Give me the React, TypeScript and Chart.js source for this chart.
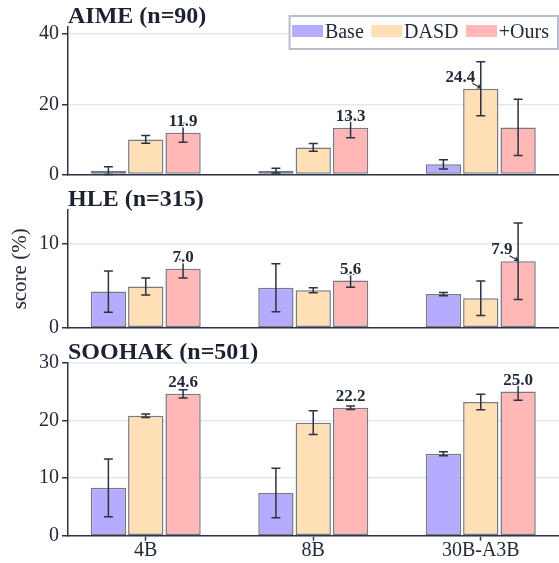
import React, { useEffect, useRef } from 'react';
import { Chart, registerables } from 'chart.js';

Chart.register(...registerables);

// ---------- data ----------
const categories = ['4B', '8B', '30B-A3B'];
const seriesNames = ['Base', 'DASD', '+Ours'];
const seriesColors = ['#b5abff', '#ffdfb6', '#ffb8b6'];

const aimeBase = [1.1, 1.1, 2.9];
const aimeBaseErr = [1.1, 0.7, 1.3];
const aimeDasd = [10.0, 7.7, 24.4];
const aimeDasdErr = [1.1, 1.1, 7.7];
const aimeOurs = [11.9, 13.3, 13.4];
const aimeOursErr = [2.7, 2.8, 8.0];
const aimeTicks = [0, 20, 40];
const aimeMax = 42;
const aimeArrow = [false, false, true];

const hleBase = [4.3, 4.75, 4.0];
const hleBaseErr = [2.45, 2.85, 0.2];
const hleDasd = [4.9, 4.45, 3.5];
const hleDasdErr = [1.0, 0.3, 2.05];
const hleOurs = [7.0, 5.6, 7.9];
const hleOursErr = [1.1, 0.8, 4.55];
const hleTicks = [0, 10];
const hleMax = 14;
const hleArrow = [false, false, true];

const soohakBase = [8.3, 7.4, 14.2];
const soohakBaseErr = [5.0, 4.3, 0.35];
const soohakDasd = [20.8, 19.6, 23.2];
const soohakDasdErr = [0.3, 2.05, 1.35];
const soohakOurs = [24.6, 22.2, 25.0];
const soohakOursErr = [0.7, 0.3, 1.5];
const soohakTicks = [0, 10, 20, 30];
const soohakMax = 30;
const soohakArrow = [false, false, false];

const yAxisTitle = 'score (%)';

// ---------- style ----------
const SERIF = '"Liberation Serif", "Times New Roman", "DejaVu Serif", serif';
const INK = '#222a38';
const AXIS = '#2f3542';
const GRID = '#e3e7ef';
const ERR = '#2b3240';
const BAR_EDGE = 'rgba(72,78,92,0.75)';
const W = 559;

type Panel = {
  title: string;
  values: number[][];
  errors: number[][];
  ticks: number[];
  max: number;
  arrow: boolean[];
  top: number;
  height: number;
  padTop: number;
  xHeight: number;
  showX: boolean;
  yTitle: string | null;
  legend: boolean;
};

const panels: Panel[] = [
  {
    title: 'AIME (n=90)',
    values: [aimeBase, aimeDasd, aimeOurs],
    errors: [aimeBaseErr, aimeDasdErr, aimeOursErr],
    ticks: aimeTicks, max: aimeMax, arrow: aimeArrow,
    top: 0, height: 180, padTop: 27, xHeight: 5.5, showX: false, yTitle: null, legend: true,
  },
  {
    title: 'HLE (n=315)',
    values: [hleBase, hleDasd, hleOurs],
    errors: [hleBaseErr, hleDasdErr, hleOursErr],
    ticks: hleTicks, max: hleMax, arrow: hleArrow,
    top: 180, height: 155, padTop: 30, xHeight: 7.3, showX: false, yTitle: yAxisTitle, legend: false,
  },
  {
    title: 'SOOHAK (n=501)',
    values: [soohakBase, soohakDasd, soohakOurs],
    errors: [soohakBaseErr, soohakDasdErr, soohakOursErr],
    ticks: soohakTicks, max: soohakMax, arrow: soohakArrow,
    top: 335, height: 228, padTop: 27.7, xHeight: 27.3, showX: true, yTitle: null, legend: false,
  },
];

function drawLegend(chart: any) {
  const ctx = chart.ctx as CanvasRenderingContext2D;
  const right = chart.chartArea.right;
  ctx.save();
  ctx.font = `20px ${SERIF}`;
  const sw = 31, gapSw = 1.8, gapItem = 7.5, padL = 2.5, padR = 9;
  const widths = seriesNames.map((n) => ctx.measureText(n).width);
  const total = padL + widths.reduce((a, w) => a + sw + gapSw + w, 0) + gapItem * (seriesNames.length - 1) + padR;
  const boxR = right - 1;
  const boxL = boxR - total;
  const boxT = 16, boxH = 33;
  ctx.fillStyle = '#ffffff';
  ctx.fillRect(boxL, boxT, total, boxH);
  ctx.strokeStyle = '#b5bdcc';
  ctx.lineWidth = 2;
  ctx.strokeRect(boxL, boxT, total, boxH);
  let x = boxL + padL;
  ctx.textBaseline = 'alphabetic';
  ctx.textAlign = 'left';
  seriesNames.forEach((n, k) => {
    ctx.fillStyle = seriesColors[k];
    ctx.fillRect(x, 25, sw, 12);
    x += sw + gapSw;
    ctx.fillStyle = INK;
    ctx.fillText(n, x, 38.3);
    x += widths[k] + gapItem;
  });
  ctx.restore();
}

function makeDecor(panel: Panel) {
  return {
    id: 'decor',
    afterDatasetsDraw(chart: any) {
      const ctx = chart.ctx as CanvasRenderingContext2D;
      const ys = chart.scales.y;
      ctx.save();
      // error bars
      ctx.strokeStyle = ERR;
      ctx.lineWidth = 1.5;
      panel.values.forEach((vals, d) => {
        const meta = chart.getDatasetMeta(d);
        meta.data.forEach((el: any, i: number) => {
          const v = vals[i];
          const e = panel.errors[d][i];
          const x = el.x;
          const yT = ys.getPixelForValue(v + e);
          const yB = ys.getPixelForValue(Math.max(0, v - e));
          ctx.beginPath();
          ctx.moveTo(x, yT); ctx.lineTo(x, yB);
          ctx.moveTo(x - 4.5, yT); ctx.lineTo(x + 4.5, yT);
          ctx.moveTo(x - 4.5, yB); ctx.lineTo(x + 4.5, yB);
          ctx.stroke();
        });
      });
      // value labels on the best bar of each group
      ctx.font = `bold 17px ${SERIF}`;
      categories.forEach((_, i) => {
        let best = 0;
        panel.values.forEach((vals, d) => { if (vals[i] > panel.values[best][i]) best = d; });
        const el = chart.getDatasetMeta(best).data[i];
        const txt = panel.values[best][i].toFixed(1);
        ctx.lineJoin = 'round';
        ctx.lineWidth = 3;
        ctx.strokeStyle = 'rgba(255,255,255,0.85)';
        ctx.fillStyle = INK;
        ctx.textBaseline = 'alphabetic';
        if (panel.arrow[i]) {
          const tx = el.x - 5.5;
          const ty = el.y - 7;
          ctx.textAlign = 'right';
          ctx.strokeText(txt, tx, ty);
          ctx.fillText(txt, tx, ty);
          // arrow
          const x0 = el.x - 8.5, y0 = el.y - 5.5;
          const x1 = el.x, y1 = el.y - 0.8;
          const ang = Math.atan2(y1 - y0, x1 - x0);
          ctx.strokeStyle = ERR;
          ctx.lineWidth = 1.2;
          ctx.beginPath();
          ctx.moveTo(x0, y0); ctx.lineTo(x1, y1);
          ctx.moveTo(x1, y1); ctx.lineTo(x1 - 4 * Math.cos(ang - 0.5), y1 - 4 * Math.sin(ang - 0.5));
          ctx.moveTo(x1, y1); ctx.lineTo(x1 - 4 * Math.cos(ang + 0.5), y1 - 4 * Math.sin(ang + 0.5));
          ctx.stroke();
        } else {
          ctx.textAlign = 'center';
          ctx.strokeText(txt, el.x, el.y - 7);
          ctx.fillText(txt, el.x, el.y - 7);
        }
      });
      ctx.restore();
    },
    afterDraw(chart: any) {
      const ctx = chart.ctx as CanvasRenderingContext2D;
      ctx.save();
      ctx.font = `bold 24px ${SERIF}`;
      ctx.fillStyle = '#1c2230';
      ctx.textAlign = 'left';
      ctx.textBaseline = 'alphabetic';
      ctx.fillText(panel.title, chart.chartArea.left, chart.chartArea.top - 4);
      ctx.restore();
      if (panel.legend) drawLegend(chart);
    },
  };
}

function PanelChart({ panel }: { panel: Panel }) {
  const ref = useRef<HTMLCanvasElement>(null);
  useEffect(() => {
    const chart = new Chart(ref.current as HTMLCanvasElement, {
      type: 'bar',
      data: {
        datasets: seriesNames.map((name, d) => ({
          label: name,
          data: panel.values[d].map((v, i) => ({ x: i, y: v })),
          backgroundColor: seriesColors[d],
          borderColor: BAR_EDGE,
          borderWidth: 1.5,
          borderSkipped: false,
          categoryPercentage: 0.6687,
          barPercentage: 0.945,
        })),
      } as any,
      options: {
        animation: false,
        responsive: false,
        maintainAspectRatio: false,
        events: [],
        layout: { autoPadding: false, padding: { top: panel.padTop, left: 0, right: 0, bottom: 0 } },
        plugins: { legend: { display: false }, tooltip: { enabled: false }, title: { display: false } },
        scales: {
          x: {
            type: 'linear',
            offset: false,
            min: -0.464,
            max: 2.467,
            afterBuildTicks: (s: any) => { s.ticks = categories.map((_, i) => ({ value: i })); },
            afterFit: (s: any) => {
              s.height = panel.xHeight;
              s.paddingLeft = 0; s.paddingRight = 0;
            },
            ticks: {
              display: panel.showX,
              autoSkip: false,
              maxRotation: 0,
              padding: 0,
              color: INK,
              font: { family: SERIF, size: 20, lineHeight: 1 },
              callback: (v: any) => categories[v as number] ?? '',
            },
            grid: {
              display: panel.showX,
              offset: false,
              drawOnChartArea: false,
              drawTicks: true,
              tickLength: 5,
              tickColor: AXIS,
              tickWidth: 1.5,
            },
            border: { display: true, color: AXIS, width: 1.5 },
          },
          y: {
            type: 'linear',
            min: 0,
            max: panel.max,
            afterBuildTicks: (s: any) => { s.ticks = panel.ticks.map((t) => ({ value: t })); },
            afterFit: (s: any) => {
              s.width = 68;
              s.paddingTop = 0; s.paddingBottom = 0;
            },
            ticks: {
              padding: 3,
              color: INK,
              font: { family: SERIF, size: 20 },
              callback: (v: any) => String(v),
            },
            grid: {
              color: GRID,
              lineWidth: 1.5,
              drawTicks: true,
              tickLength: 6,
              tickColor: AXIS,
              tickWidth: 1.5,
            },
            border: { display: true, color: AXIS, width: 1.5 },
            title: {
              display: !!panel.yTitle,
              text: panel.yTitle || '',
              color: INK,
              font: { family: SERIF, size: 21 },
              padding: { top: 8, bottom: 0 },
            },
          },
        },
      } as any,
      plugins: [makeDecor(panel)],
    });
    return () => chart.destroy();
  }, [panel]);
  return (
    <div style={{ position: 'absolute', left: 0, top: panel.top, width: W, height: panel.height }}>
      <canvas ref={ref} width={W} height={panel.height} style={{ display: 'block', width: W, height: panel.height }} />
    </div>
  );
}

export default function App() {
  return (
    <div style={{ position: 'fixed', left: 0, top: 0, width: W, height: 563, background: '#ffffff', overflow: 'hidden' }}>
      {panels.map((p) => (
        <PanelChart key={p.title} panel={p} />
      ))}
    </div>
  );
}
